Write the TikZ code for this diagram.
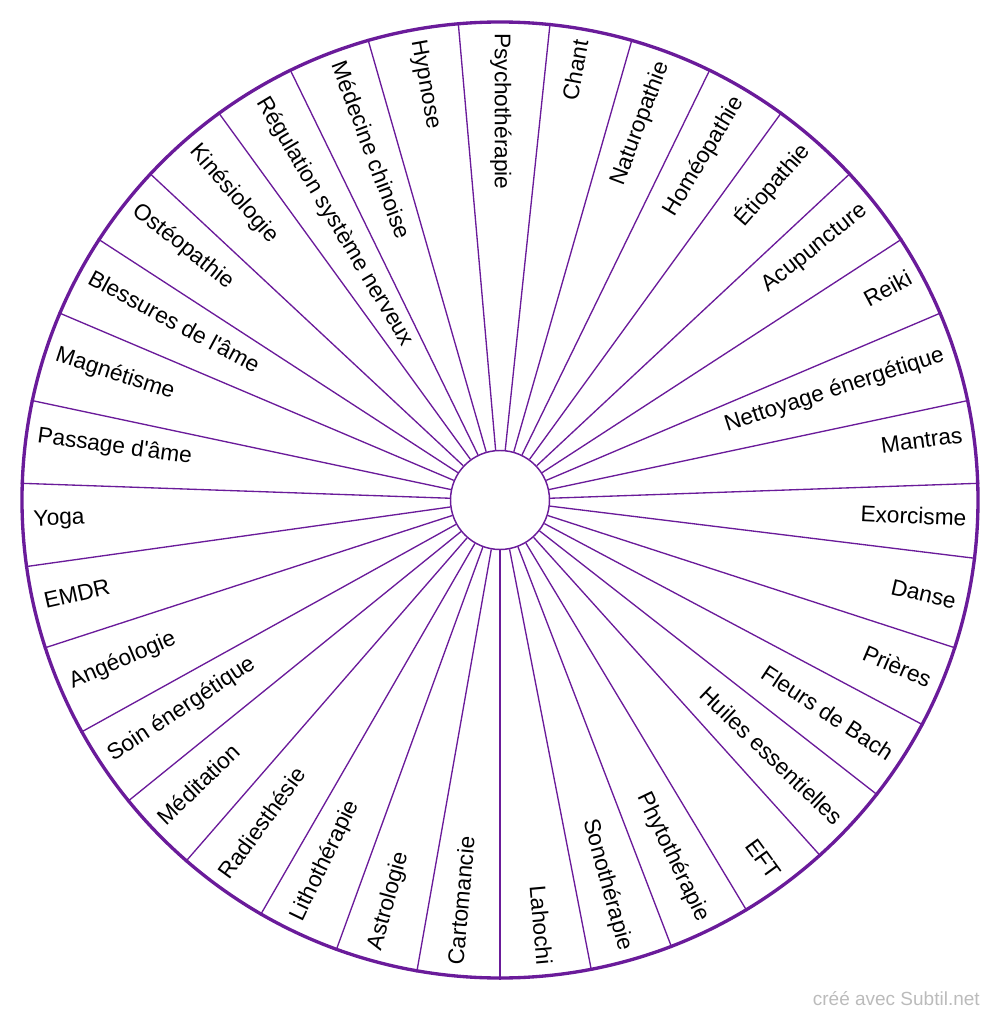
\documentclass[tikz,border=0pt]{standalone}
\usepackage{fontspec}
\setmainfont{Liberation Sans}
\usepackage{tikz}
\usepackage{xcolor}
\usetikzlibrary{positioning}
\definecolor{wheel}{RGB}{106,27,154}
\definecolor{credit}{RGB}{187,187,187}

\begin{document}
\begin{tikzpicture}[x=0.75pt, y=0.75pt,
        lbl/.style={inner sep=0pt, text height=12.2pt, text depth=4.4pt, font=\fontsize{17}{20}\selectfont}]
                \useasboundingbox (-500, -518) rectangle (500, 500);
                \node[circle, draw=wheel, line width=2.5pt, minimum size=717pt, inner sep=0pt] (rim) at (0, 0) {};
                \node[circle, draw=wheel, fill=white, line width=1.1pt, minimum size=74.25pt, inner sep=0pt] (hub) at (0, 0) {};

                \foreach \k in {0,...,34}
                    \draw[wheel, line width=1pt] (hub.{95.142857-\k*360/35}) -- (rim.{95.142857-\k*360/35});

                \foreach \name [count=\k from 0] in {Psychothérapie, Chant, Naturopathie, Homéopathie, Étiopathie,
                        Acupuncture, Reiki, Nettoyage énergétique, Mantras, Exorcisme, Danse, Prières,
                        Fleurs de Bach, Huiles essentielles, EFT, Phytothérapie, Sonothérapie, Lahochi,
                        Cartomancie, Astrologie, Lithothérapie, Radiesthésie, Méditation, Soin énergétique,
                        Angéologie, EMDR, Yoga, Passage d\textquotesingle âme, Magnétisme,
                        Blessures de l\textquotesingle âme, Ostéopathie, Kinésiologie,
                        Régulation système nerveux, Médecine chinoise, Hypnose} {
                    \pgfmathsetmacro\ang{90-\k*360/35}
                    \pgfmathtruncatemacro\side{and(\k>0, \k<18)}
                    \ifnum\side=1
                        \node[lbl, anchor=east, rotate=\ang] (t\k) at (\ang:467) {\name};
                    \else
                        \node[lbl, anchor=west, rotate=\ang-180] (t\k) at (\ang:467) {\name};
                    \fi
                }

                \node[anchor=base east, inner sep=0pt, text=credit, font=\fontsize{14.25}{16}\selectfont] (made) at (480, -505) {créé avec Subtil.net};
            \end{tikzpicture}
\end{document}
